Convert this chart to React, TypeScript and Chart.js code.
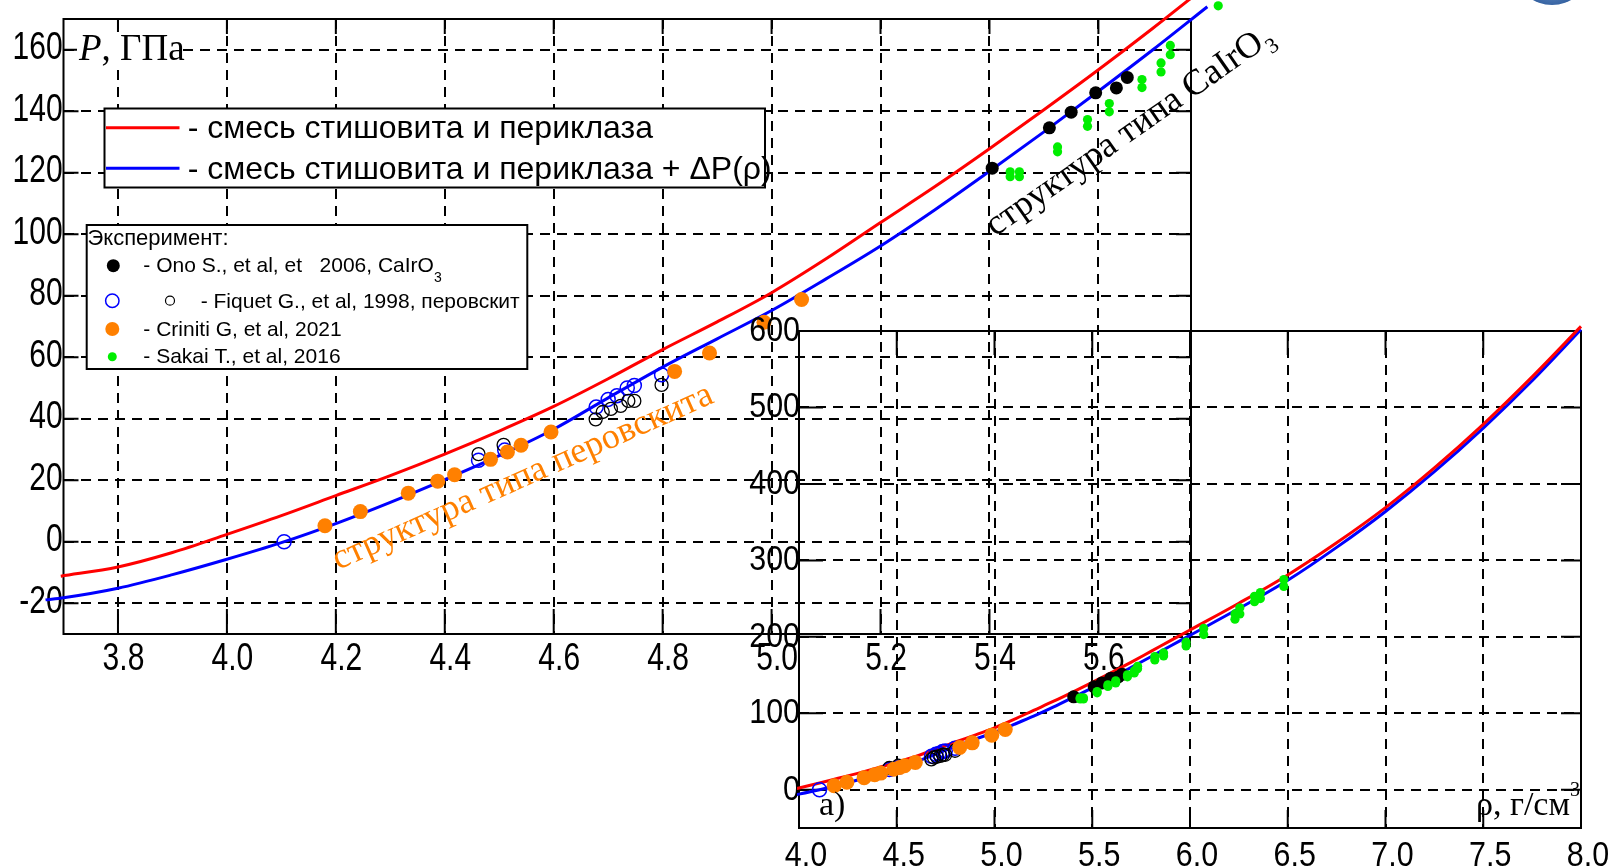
import React, { useEffect, useRef } from "react";
import { Chart, registerables } from "chart.js";

Chart.register(...registerables);

const W = 1610;
const H = 868;

// ---- tick arrays ----
const mainXTicks = [3.8, 4.0, 4.2, 4.4, 4.6, 4.8, 5.0, 5.2, 5.4, 5.6];
const mainYTicks = [-20, 0, 20, 40, 60, 80, 100, 120, 140, 160];
const insetXTicks = [4.0, 4.5, 5.0, 5.5, 6.0, 6.5, 7.0, 7.5, 8.0];
const insetYTicks = [0, 100, 200, 300, 400, 500, 600];

// ---- model curves (density g/cm3, pressure GPa) ----
const redRho = [3.695, 3.8, 3.9, 4.0, 4.1, 4.2, 4.3, 4.4, 4.5, 4.6, 4.7, 4.8, 4.9, 5.0, 5.1, 5.2, 5.3, 5.4, 5.5, 5.6, 5.7, 5.8, 5.9, 6.0, 6.25, 6.5, 6.75, 7.0, 7.25, 7.5, 7.75, 8.0];
const redP = [-11.2, -8.2, -3.5, 2.4, 8.5, 15.0, 21.5, 28.5, 36.0, 44.0, 53.0, 62.5, 71.5, 81.0, 92.0, 103.8, 115.5, 127.8, 140.5, 153.5, 167.0, 181.0, 195.0, 209.0, 244.0, 281.0, 323.0, 369.0, 421.0, 478.0, 540.0, 606.0];
const blueRho = [3.667, 3.7, 3.8, 3.9, 4.0, 4.1, 4.2, 4.3, 4.4, 4.5, 4.6, 4.7, 4.8, 4.9, 5.0, 5.1, 5.2, 5.3, 5.4, 5.5, 5.6, 5.7, 5.8, 5.9, 6.0, 6.25, 6.5, 6.75, 7.0, 7.25, 7.5, 7.75, 8.0];
const blueP = [-18.9, -18.2, -15.1, -10.7, -5.7, -0.3, 5.9, 12.8, 20.2, 28.0, 36.6, 46.8, 56.8, 66.0, 75.2, 85.5, 96.2, 108.0, 120.5, 133.3, 146.5, 160.0, 174.0, 188.0, 202.0, 237.0, 274.0, 317.0, 364.0, 416.0, 473.0, 535.0, 602.0];

// ---- experiments ----
const onoRho = [5.405, 5.51, 5.55, 5.595, 5.633, 5.653];
const onoP = [121.5, 134.6, 139.7, 146.0, 147.6, 151.0];

const fiquetBlueRho = [4.105, 4.462, 4.51, 4.678, 4.7, 4.716, 4.735, 4.748, 4.798];
const fiquetBlueP = [0.0, 26.5, 29.8, 43.8, 46.3, 47.5, 50.0, 50.8, 54.3];
const fiquetBlackRho = [4.462, 4.508, 4.677, 4.69, 4.705, 4.723, 4.737, 4.748, 4.798];
const fiquetBlackP = [28.5, 31.5, 39.8, 42.2, 43.2, 44.2, 45.8, 45.8, 51.0];

const crinitiRho = [4.18, 4.245, 4.333, 4.387, 4.418, 4.484, 4.515, 4.54, 4.595, 4.822, 4.886, 4.986, 5.055];
const crinitiP = [5.2, 9.8, 15.8, 19.7, 21.8, 26.8, 29.2, 31.4, 35.7, 55.4, 61.4, 71.4, 78.8];

const sakaiRho = [5.438, 5.438, 5.455, 5.455, 5.525, 5.525, 5.58, 5.58, 5.62, 5.62, 5.68, 5.68, 5.715, 5.715, 5.732, 5.732, 5.82, 5.82, 5.865, 5.865, 5.98, 5.98, 6.07, 6.07, 6.23, 6.23, 6.255, 6.255, 6.33, 6.33, 6.36, 6.36, 6.48, 6.48];
const sakaiP = [120.3, 118.7, 120.3, 118.7, 128.4, 126.8, 137.3, 135.1, 142.5, 139.8, 150.3, 147.7, 155.7, 152.8, 161.4, 158.4, 174.3, 169.8, 179.0, 175.0, 193.0, 188.0, 211.0, 203.0, 230.0, 223.0, 238.0, 230.0, 253.0, 246.0, 258.0, 250.0, 275.0, 266.0];

// ---- text ----
const legendLine1 = "- смесь стишовита и периклаза";
const legendLine2 = "- смесь стишовита и периклаза + ΔP(ρ)";
const expTitle = "Эксперимент:";
const onoLabel = "- Ono S., et al, et   2006, CaIrO";
const fiquetLabel = "- Fiquet G., et al, 1998, перовскит";
const crinitiLabel = "- Criniti G, et al, 2021";
const sakaiLabel = "- Sakai T., et al, 2016";
const perovText = "структура типа перовскита";
const cairText = "структура типа CaIrO";

const SERIF = "'Liberation Serif', 'Times New Roman', serif";
const SANS = "'Liberation Sans', Arial, sans-serif";

const RED = "#ff0000";
const BLUE = "#0000ff";
const ORANGE = "#ff8000";
const GREEN = "#00ee00";

const pts = (xs: number[], ys: number[]) => xs.map((x, i) => ({ x, y: ys[i] }));

function axis(min: number, max: number, tickVals: number[], fit: { width?: number; height?: number }) {
  return {
    type: "linear",
    min,
    max,
    afterBuildTicks: (s: any) => {
      s.ticks = tickVals.map((v) => ({ value: v }));
    },
    afterFit: (s: any) => {
      if (fit.width != null) s.width = fit.width;
      if (fit.height != null) s.height = fit.height;
    },
    grid: { color: "#000", lineWidth: 2, drawTicks: false },
    border: { display: false, dash: [10, 7] },
    ticks: { display: false, autoSkip: false, maxRotation: 0, minRotation: 0 },
  };
}

function condensed(ctx: CanvasRenderingContext2D, text: string, x: number, y: number, align: CanvasTextAlign, sx: number) {
  ctx.save();
  ctx.translate(x, y);
  ctx.scale(sx, 1);
  ctx.textAlign = align;
  ctx.textBaseline = "alphabetic";
  ctx.fillText(text, 0, 0);
  ctx.restore();
}

type LabelSpec = {
  size: number;
  sx: number;
  xFmt: (v: number) => string;
  yFmt: (v: number) => string;
  xDx: number;
  xBase: number;
  yRight: number;
  yDy: number;
};

function drawTickLabels(chart: any, s: LabelSpec) {
  const { ctx, scales } = chart;
  ctx.save();
  ctx.fillStyle = "#000";
  ctx.font = `${s.size}px ${SANS}`;
  for (const t of scales.x.ticks) {
    const px = scales.x.getPixelForValue(t.value);
    condensed(ctx, s.xFmt(t.value), px + s.xDx, s.xBase, "center", s.sx);
  }
  for (const t of scales.y.ticks) {
    const py = scales.y.getPixelForValue(t.value);
    condensed(ctx, s.yFmt(t.value), s.yRight, py + s.yDy, "right", s.sx);
  }
  ctx.restore();
}

function frameTicks(chart: any, lens: { l: number; r: number; t: number; b: number }) {
  const { ctx, chartArea: a, scales } = chart;
  ctx.save();
  ctx.strokeStyle = "#000";
  ctx.lineWidth = 2;
  ctx.setLineDash([]);
  ctx.strokeRect(a.left, a.top, a.right - a.left, a.bottom - a.top);
  ctx.beginPath();
  for (const t of scales.x.ticks) {
    const px = scales.x.getPixelForValue(t.value);
    ctx.moveTo(px, a.bottom);
    ctx.lineTo(px, a.bottom - lens.b);
    ctx.moveTo(px, a.top);
    ctx.lineTo(px, a.top + lens.t);
  }
  for (const t of scales.y.ticks) {
    const py = scales.y.getPixelForValue(t.value);
    ctx.moveTo(a.left, py);
    ctx.lineTo(a.left + lens.l, py);
    ctx.moveTo(a.right, py);
    ctx.lineTo(a.right - lens.r, py);
  }
  ctx.stroke();
  ctx.restore();
}

function dot(ctx: CanvasRenderingContext2D, x: number, y: number, r: number, fill: string | null, stroke: string | null, lw = 1.5) {
  ctx.beginPath();
  ctx.arc(x, y, r, 0, Math.PI * 2);
  if (fill) {
    ctx.fillStyle = fill;
    ctx.fill();
  }
  if (stroke) {
    ctx.strokeStyle = stroke;
    ctx.lineWidth = lw;
    ctx.stroke();
  }
}

const mainPlugin = {
  id: "mainDecor",
  beforeDatasetsDraw(chart: any) {
    frameTicks(chart, { l: 15, r: 15, t: 15, b: 25 });
    drawTickLabels(chart, {
      size: 38,
      sx: 0.79,
      xFmt: (v) => v.toFixed(1),
      yFmt: (v) => String(v),
      xDx: 5.5,
      xBase: 669.5,
      yRight: 62.7,
      yDy: 9.6,
    });
  },
  // let points outside the plot frame (the high-pressure points) be drawn, as in the source figure
  beforeDatasetDraw(chart: any) {
    chart.$savedArea = chart.chartArea;
    chart.chartArea = { left: -5000, top: -5000, right: 10000, bottom: 10000, width: 15000, height: 15000 };
  },
  afterDatasetDraw(chart: any) {
    if (chart.$savedArea) chart.chartArea = chart.$savedArea;
  },
  afterDraw(chart: any) {
    const ctx: CanvasRenderingContext2D = chart.ctx;
    ctx.save();
    ctx.setLineDash([]);
    ctx.textAlign = "left";
    ctx.textBaseline = "alphabetic";

    // axis title P, ГПа
    ctx.fillStyle = "#fff";
    ctx.fillRect(77, 32, 102, 34);
    ctx.fillStyle = "#000";
    ctx.font = `italic 37px ${SERIF}`;
    ctx.fillText("P", 79, 60);
    const pw = ctx.measureText("P").width;
    ctx.font = `37px ${SERIF}`;
    ctx.fillText(", ГПа", 79 + pw, 60);

    // legend 1
    ctx.fillStyle = "#fff";
    ctx.fillRect(104.5, 108.5, 660.5, 79);
    ctx.strokeStyle = "#000";
    ctx.lineWidth = 2;
    ctx.strokeRect(104.5, 108.5, 660.5, 79);
    ctx.lineWidth = 3;
    ctx.strokeStyle = RED;
    ctx.beginPath();
    ctx.moveTo(106, 127.7);
    ctx.lineTo(179.5, 127.7);
    ctx.stroke();
    ctx.strokeStyle = BLUE;
    ctx.beginPath();
    ctx.moveTo(106, 168.3);
    ctx.lineTo(179.5, 168.3);
    ctx.stroke();
    ctx.fillStyle = "#000";
    ctx.font = `32px ${SANS}`;
    ctx.fillText(legendLine1, 187.7, 138.3);
    ctx.fillText(legendLine2, 187.7, 179);

    // legend 2
    ctx.fillStyle = "#fff";
    ctx.fillRect(86.7, 225, 440.6, 144);
    ctx.strokeStyle = "#000";
    ctx.lineWidth = 2;
    ctx.strokeRect(86.7, 225, 440.6, 144);
    ctx.fillStyle = "#000";
    ctx.font = `22px ${SANS}`;
    ctx.fillText(expTitle, 87.5, 245);
    ctx.font = `21px ${SANS}`;
    dot(ctx, 113.3, 265.7, 6.5, "#000", null);
    ctx.fillStyle = "#000";
    ctx.fillText(onoLabel, 143.3, 272.3);
    const ow = ctx.measureText(onoLabel).width;
    ctx.font = `14px ${SANS}`;
    ctx.fillText("3", 143.3 + ow, 281.5);
    ctx.font = `21px ${SANS}`;
    dot(ctx, 112.3, 300.7, 6.7, null, BLUE, 1.5);
    dot(ctx, 170, 300.7, 4.5, null, "#000", 1.2);
    ctx.fillStyle = "#000";
    ctx.fillText(fiquetLabel, 200.7, 308.3);
    dot(ctx, 112.3, 329, 7, ORANGE, null);
    ctx.fillStyle = "#000";
    ctx.fillText(crinitiLabel, 143.3, 335.7);
    dot(ctx, 112.3, 356.7, 4.5, GREEN, null);
    ctx.fillStyle = "#000";
    ctx.fillText(sakaiLabel, 143.3, 363.3);

    // rotated annotations
    ctx.save();
    ctx.translate(338, 570);
    ctx.rotate((-24 * Math.PI) / 180);
    ctx.fillStyle = ORANGE;
    ctx.font = `36px ${SERIF}`;
    ctx.fillText(perovText, 0, 0);
    ctx.restore();

    ctx.save();
    ctx.translate(995, 237);
    ctx.rotate((-35 * Math.PI) / 180);
    ctx.fillStyle = "#000";
    ctx.font = `36px ${SERIF}`;
    ctx.fillText(cairText, 0, 0);
    const cw = ctx.measureText(cairText).width;
    ctx.font = `22px ${SERIF}`;
    ctx.fillText("3", cw + 1, 9);
    ctx.restore();

    ctx.restore();
  },
};

const insetPlugin = {
  id: "insetDecor",
  beforeDatasetsDraw(chart: any) {
    frameTicks(chart, { l: 24, r: 20, t: 24, b: 18 });
    drawTickLabels(chart, {
      size: 35,
      sx: 0.87,
      xFmt: (v) => v.toFixed(1),
      yFmt: (v) => String(v),
      xDx: 7,
      xBase: 866,
      yRight: 800,
      yDy: 10,
    });
  },
  afterDraw(chart: any) {
    const ctx: CanvasRenderingContext2D = chart.ctx;
    ctx.save();
    ctx.setLineDash([]);
    ctx.textAlign = "left";
    ctx.textBaseline = "alphabetic";
    ctx.fillStyle = "#000";
    ctx.font = `34px ${SERIF}`;
    ctx.fillText("а)", 819, 815);
    const t = "ρ, г/см";
    ctx.fillText(t, 1476, 815);
    const tw = ctx.measureText(t).width;
    ctx.font = `20px ${SERIF}`;
    ctx.fillText("3", 1476 + tw, 796);
    // fragment of a logo at the top right corner
    const g = ctx.createRadialGradient(1552, -20, 5, 1552, -20, 34);
    g.addColorStop(0, "#6f95c8");
    g.addColorStop(1, "#1f4f93");
    ctx.fillStyle = g;
    ctx.beginPath();
    ctx.ellipse(1552, -24, 34, 29, 0, 0, Math.PI * 2);
    ctx.fill();
    ctx.restore();
  },
};

function curveSet(xs: number[], ys: number[], color: string, order: number, clip: any) {
  return {
    data: pts(xs, ys),
    showLine: true,
    borderColor: color,
    borderWidth: 3,
    pointRadius: 0,
    cubicInterpolationMode: "monotone",
    clip,
    order,
  };
}

function pointSets(clip: any) {
  return [
    {
      data: pts(fiquetBlueRho, fiquetBlueP),
      showLine: false,
      pointRadius: 7,
      pointBorderWidth: 1.5,
      pointBorderColor: BLUE,
      pointBackgroundColor: "rgba(0,0,0,0)",
      clip,
      order: 6,
    },
    {
      data: pts(fiquetBlackRho, fiquetBlackP),
      showLine: false,
      pointRadius: 6.5,
      pointBorderWidth: 1.3,
      pointBorderColor: "#000",
      pointBackgroundColor: "rgba(0,0,0,0)",
      clip,
      order: 5,
    },
    {
      data: pts(crinitiRho, crinitiP),
      showLine: false,
      pointRadius: 7.5,
      pointBorderWidth: 0,
      pointBorderColor: ORANGE,
      pointBackgroundColor: ORANGE,
      clip,
      order: 3,
    },
    {
      data: pts(onoRho, onoP),
      showLine: false,
      pointRadius: 6.5,
      pointBorderWidth: 0,
      pointBorderColor: "#000",
      pointBackgroundColor: "#000",
      clip,
      order: 2,
    },
    {
      data: pts(sakaiRho, sakaiP),
      showLine: false,
      pointRadius: 4.6,
      pointBorderWidth: 0,
      pointBorderColor: GREEN,
      pointBackgroundColor: GREEN,
      clip,
      order: 1,
    },
  ];
}

const baseOptions = {
  animation: false,
  responsive: false,
  maintainAspectRatio: false,
  events: [],
  plugins: { legend: { display: false }, tooltip: { enabled: false } },
};

function mainConfig(): any {
  return {
    type: "scatter",
    data: {
      datasets: [
        curveSet(redRho, redP, RED, 10, false),
        curveSet(blueRho, blueP, BLUE, 9, false),
        ...pointSets(false),
      ],
    },
    options: {
      ...baseOptions,
      layout: { padding: { left: 0, top: 19, right: W - 1191, bottom: 0 } },
      scales: {
        x: axis(3.7, 5.77, mainXTicks, { height: H - 634 }),
        y: axis(-30, 170, mainYTicks, { width: 63.5 }),
      },
    },
    plugins: [mainPlugin],
  };
}

function insetConfig(): any {
  const cclip = { left: 2, top: 8, right: 6, bottom: 2 };
  return {
    type: "scatter",
    data: {
      datasets: [
        curveSet(blueRho, blueP, BLUE, 10, cclip),
        curveSet(redRho, redP, RED, 9, cclip),
        ...pointSets(undefined),
      ],
    },
    options: {
      ...baseOptions,
      layout: { padding: { left: 700, top: 331, right: W - 1581, bottom: 0 } },
      scales: {
        x: axis(4, 8, insetXTicks, { height: H - 828 }),
        y: axis(-50, 600, insetYTicks, { width: 99 }),
      },
    },
    plugins: [insetPlugin],
  };
}

export default function App() {
  const mainRef = useRef<HTMLCanvasElement>(null);
  const insetRef = useRef<HTMLCanvasElement>(null);

  useEffect(() => {
    const c1 = new Chart(mainRef.current as HTMLCanvasElement, mainConfig());
    const c2 = new Chart(insetRef.current as HTMLCanvasElement, insetConfig());
    return () => {
      c1.destroy();
      c2.destroy();
    };
  }, []);

  const cs: React.CSSProperties = { position: "absolute", left: 0, top: 0, width: W, height: H };
  return (
    <div style={{ position: "fixed", left: 0, top: 0, width: W, height: H, background: "#fff", overflow: "hidden" }}>
      <canvas ref={mainRef} width={W} height={H} style={cs} />
      <canvas ref={insetRef} width={W} height={H} style={cs} />
    </div>
  );
}
